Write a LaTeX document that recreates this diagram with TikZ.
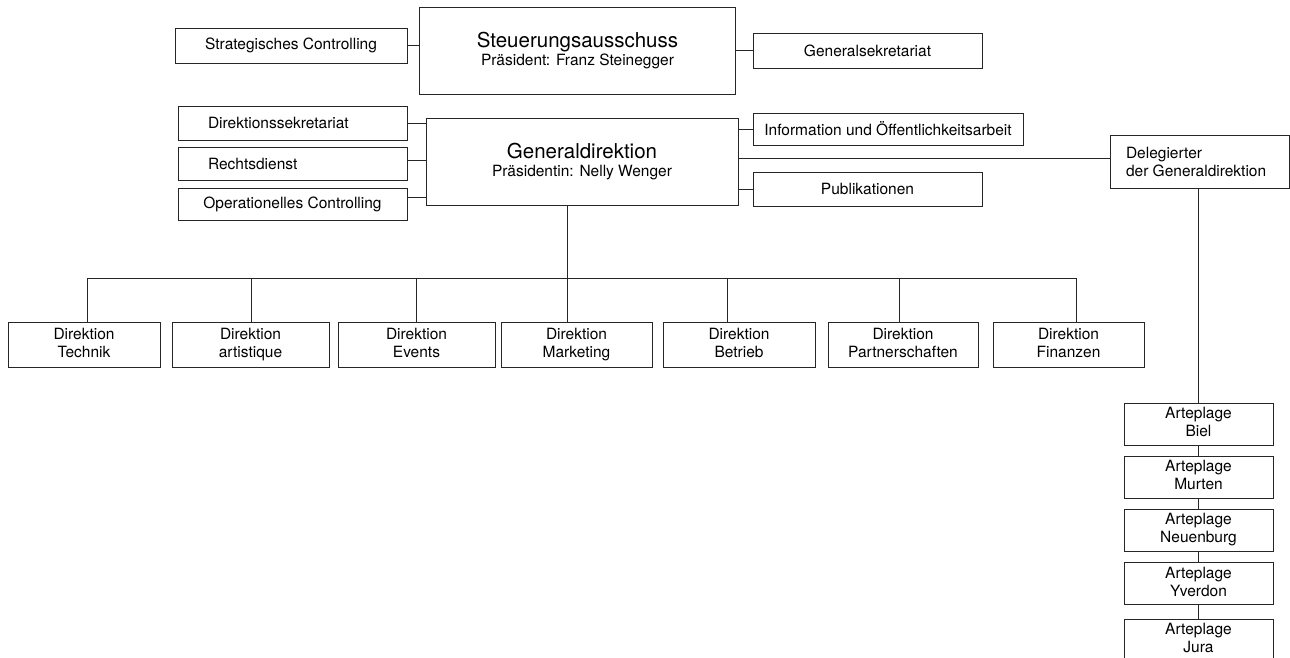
\documentclass[tikz,border=0pt]{standalone}
\usepackage{fontspec}
\setmainfont{TeX Gyre Heros}
\usepackage{tikz}
\usetikzlibrary{positioning}

\tikzset{box/.style = {draw,rectangle,inner sep=0pt,align=center,font=\fontsize{15.5}{18}\selectfont}}

\begin{document}
\begin{tikzpicture}[x=1pt,y=-1pt,line width=0.8pt,draw=black!85,
    leftbox/.style={box,align=flush left,inner xsep=30pt,text width=169pt}]
    \useasboundingbox (0,0) rectangle (1290,658);

    % oberste Ebene
    \node[box,minimum width=316pt,minimum height=87pt] (steuer) at (577.5,50.5)
        {{\fontsize{20.5}{22}\selectfont Steuerungsausschuss}\\Präsident: Franz Steinegger};
    \node[box,minimum width=232pt,minimum height=35pt] (strat) at (291,45.5) {Strategisches Controlling};
    \node[box,minimum width=229pt,minimum height=35pt] (gensek) at (867.5,50.5) {Generalsekretariat};

    % Generaldirektion
    \node[box,minimum width=312pt,minimum height=87pt] (gd) at (582,161.5)
        {{\fontsize{20.5}{22}\selectfont Generaldirektion}\\Präsidentin: Nelly Wenger};
    \node[leftbox,minimum height=34pt] (dsek) at (292.5,123) {Direktionssekretariat};
    \node[leftbox,minimum height=33pt] (recht) at (292.5,163.5) {Rechtsdienst};
    \node[box,minimum width=229pt,minimum height=32pt] (opctrl) at (292.5,204) {Operationelles Controlling};
    \node[box,minimum width=270pt,minimum height=32pt] (info) at (888,129) {Information und Öffentlichkeitsarbeit};
    \node[box,minimum width=229pt,minimum height=34pt] (publ) at (867.5,189) {Publikationen};
    \node[box,align=flush left,inner xsep=16pt,text width=147pt,minimum height=53pt] (deleg) at (1199.5,161.5)
        {Delegierter\\der Generaldirektion};

    \draw (strat.east) -- (strat.east -| steuer.west);
    \draw (steuer.east |- gensek.west) -- (gensek.west);
    \draw (dsek.east) -- (dsek.east -| gd.west);
    \draw (recht.east |- 0,160) -- (gd.west |- 0,160);
    \draw (opctrl.east |- 0,197) -- (gd.west |- 0,197);
    \draw (gd.east |- info.west) -- (info.west);
    \draw (gd.east |- publ.west) -- (publ.west);
    \draw (gd.east |- 0,158) -- (deleg.west |- 0,158);

    % Direktionen
    \coordinate (bar) at (gd.south |- 0,278);
    \draw ([xshift=-15pt]gd.south) -- ([xshift=-15pt]bar);
    \foreach \n/\x/\w/\d/\t in {tech/84/152/87/Technik, art/250.5/157/251/artistique,
        events/416.5/157/416/Events, mark/576.5/151/567/Marketing, betr/739/152/727/Betrieb,
        partner/903/150/899/Partnerschaften, fin/1068.5/151/1076/Finanzen}
    {
        \node[box,minimum width=\w pt,minimum height=45pt] (\n) at (\x,344.5) {\strut Direktion\\\t\strut};
        \draw (\n.north -| \d,0) -- (\d,278) -- ([xshift=-15pt]bar);
    }

    % Arteplagen
    \foreach \n/\y/\t in {biel/424/Biel, murten/477/Murten, neuenburg/530/Neuenburg,
        yverdon/583.5/Yverdon, jura/640/Jura}
        \node[box,minimum width=149pt,minimum height=42pt] (\n) at (1198.5,\y) {\strut Arteplage\\\t\strut};

    \draw (deleg.south -| 1198,0) -- (biel.north -| 1198,0);
    \path[draw]
        (biel) -- (murten)
        (murten) -- (neuenburg)
        (neuenburg) -- (yverdon)
        (yverdon) -- (jura);
\end{tikzpicture}
\end{document}
